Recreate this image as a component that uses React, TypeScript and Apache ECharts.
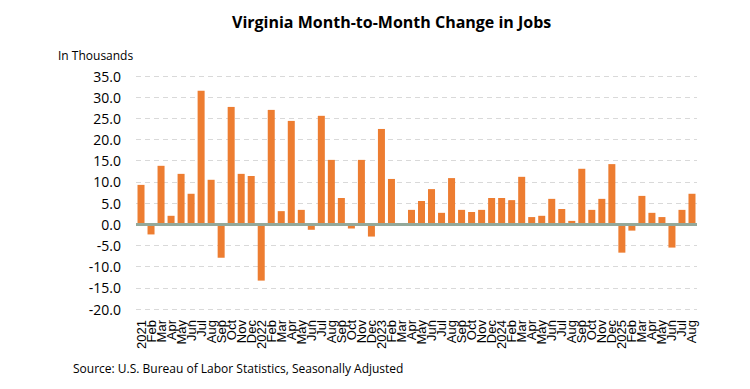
import React, { useEffect, useRef } from "react";
import * as echarts from "echarts";

const months = ["Jan", "Feb", "Mar", "Apr", "May", "Jun", "Jul", "Aug", "Sep", "Oct", "Nov", "Dec"];
const years = ["2021", "2022", "2023", "2024", "2025"];

const values = [
  9.3, -2.4, 13.8, 2.0, 11.9, 7.2, 31.5, 10.5, -7.9, 27.7, 11.9, 11.4,
  -13.3, 27.0, 3.1, 24.4, 3.4, -1.3, 25.6, 15.2, 6.2, -1.0, 15.2, -2.9,
  22.5, 10.7, 0.0, 3.4, 5.5, 8.3, 2.7, 10.9, 3.4, 2.9, 3.4, 6.2,
  6.2, 5.7, 11.2, 1.7, 2.0, 6.0, 3.6, 0.8, 13.1, 3.4, 6.0, 14.2,
  -6.7, -1.5, 6.7, 2.7, 1.7, -5.5, 3.4, 7.2,
];

const categories: string[] = values.map((_, i) => {
  const m = i % 12;
  const y = Math.floor(i / 12);
  return m === 0 ? years[y] : months[m];
});

const yMin = -20;
const yMax = 35;
const yInterval = 5;

export default function App() {
  const ref = useRef<HTMLDivElement>(null);
  useEffect(() => {
    document.body.style.margin = "0";
    if (!ref.current) return;
    const chart = echarts.init(ref.current, undefined, { renderer: "svg" });
    chart.setOption({
      animation: false,
      backgroundColor: "#ffffff",
      textStyle: { fontFamily: "Open Sans" },
      graphic: [
        {
          type: "text",
          left: 232,
          top: 14,
          style: {
            text: "Virginia Month-to-Month Change in Jobs",
            font: "bold 16px 'Open Sans'",
            fill: "#000000",
          },
        },
        {
          type: "text",
          left: 58,
          top: 49,
          style: { text: "In Thousands", font: "12px 'Open Sans'", fill: "#000000" },
        },
        {
          type: "text",
          left: 73,
          top: 362,
          style: {
            text: "Source: U.S. Bureau of Labor Statistics, Seasonally Adjusted",
            font: "12px 'Open Sans'",
            fill: "#000000",
          },
        },
      ],
      grid: { left: 136, right: 53, top: 76, bottom: 80, containLabel: false },
      xAxis: {
        type: "category",
        data: categories,
        axisLine: { show: false },
        axisTick: { show: false },
        axisLabel: {
          interval: 0,
          rotate: 90,
          margin: 11,
          color: "#000000",
          fontFamily: "Liberation Sans",
          fontSize: 13,
        },
      },
      yAxis: {
        type: "value",
        min: yMin,
        max: yMax,
        interval: yInterval,
        axisLine: { show: false },
        axisTick: { show: false },
        axisLabel: {
          formatter: (v: number) => v.toFixed(1),
          color: "#000000",
          fontSize: 14,
          margin: 15,
        },
        splitLine: { lineStyle: { color: "#d9d9d9", type: [5, 4], width: 1 } },
      },
      series: [
        {
          type: "bar",
          data: values,
          barCategoryGap: "30%",
          itemStyle: { color: "#ED7D31" },
          markLine: {
            silent: true,
            symbol: "none",
            label: { show: false },
            lineStyle: { color: "#94a89a", width: 3, type: "solid" },
            data: [{ yAxis: 0 }],
          },
        },
      ],
    });
    return () => chart.dispose();
  }, []);
  return <div ref={ref} style={{ width: 750, height: 389 }} />;
}
